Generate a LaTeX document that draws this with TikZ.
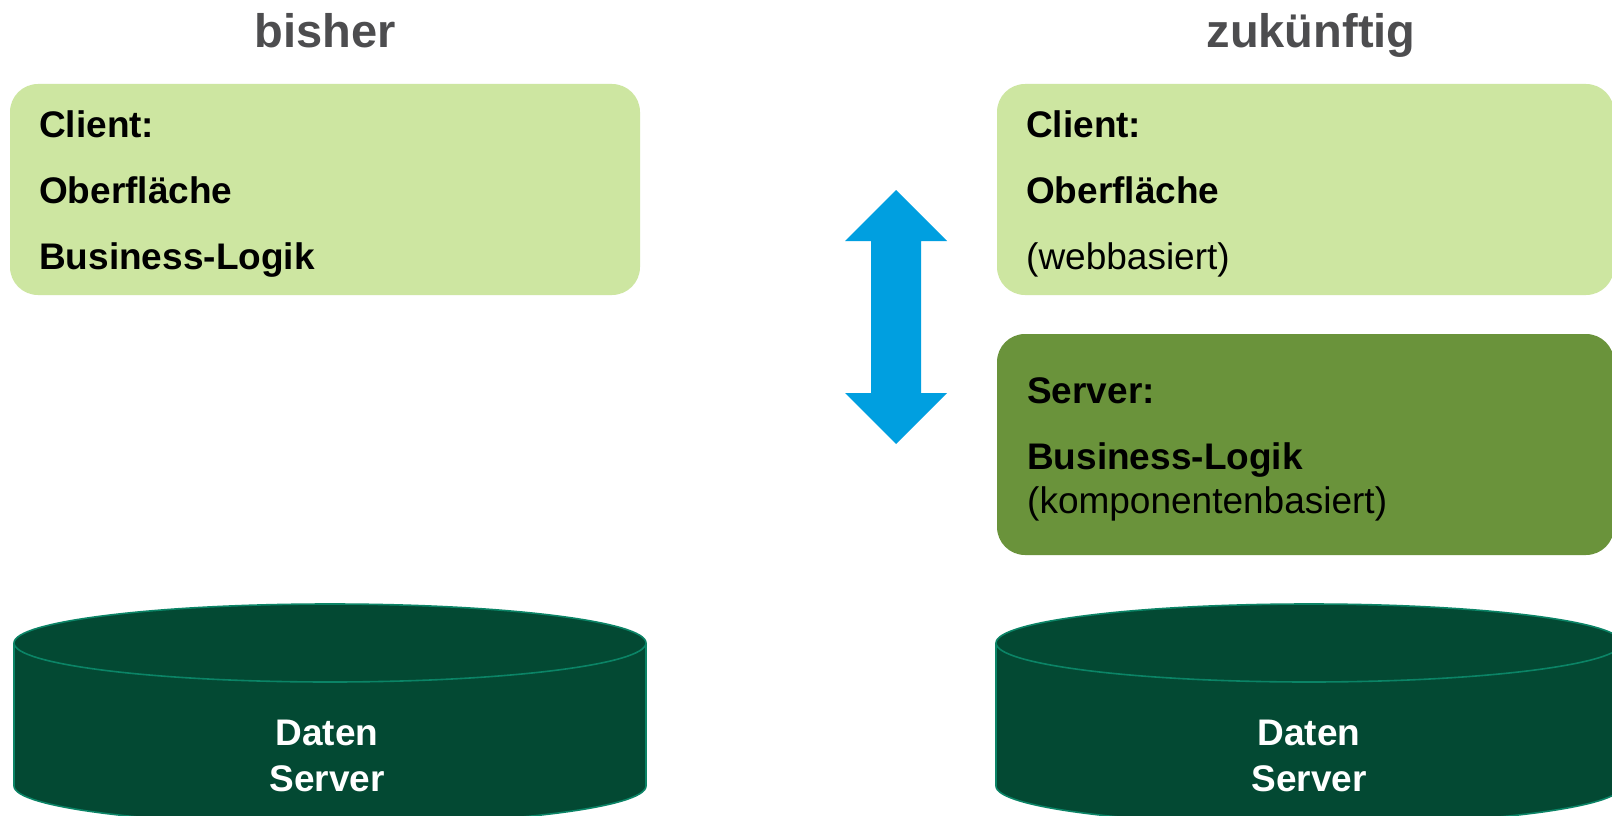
\documentclass[tikz,border=0pt]{standalone}
\usepackage{fontspec}
\setmainfont{Liberation Sans}
\definecolor{lightgreen}{HTML}{CDE6A1}
\definecolor{midgreen}{HTML}{6A933B}
\definecolor{cylfill}{HTML}{034933}
\definecolor{cylline}{HTML}{0B8466}
\definecolor{arrowblue}{HTML}{009FE0}
\definecolor{titlegray}{HTML}{4D4D4F}
\tikzset{
  boxstyle/.style={fill=#1, draw=none, rounded corners=28pt, inner sep=0pt},
  boxtext/.style={anchor=base west, inner sep=0pt, font=\fontsize{37}{44}\selectfont\bfseries, text=black},
  boxplain/.style={anchor=base west, inner sep=0pt, font=\fontsize{37}{44}\selectfont, text=black},
  titletext/.style={anchor=base, inner sep=0pt, font=\fontsize{47}{56}\selectfont\bfseries, text=titlegray},
  cyltext/.style={anchor=base, inner sep=0pt, font=\fontsize{37}{44}\selectfont\bfseries, text=white},
  cylborder/.style={draw=cylline, line width=1.6pt},
}
\begin{document}
\begin{tikzpicture}[x=1pt,y=-1pt]
\useasboundingbox (0,0) rectangle (1612,816);
\fill[white] (0,0) rectangle (1612,816);

% titles
\node[titletext] (t1) at (325,48) {bisher};
\node[titletext] (t2) at (1311,48) {zukünftig};

% boxes
\node[boxstyle=lightgreen, minimum width=630pt, minimum height=211pt] (clientL) at (325,189.5) {};
\node[boxstyle=lightgreen, minimum width=617pt, minimum height=211pt] (clientR) at (1305.5,189.5) {};
\node[boxstyle=midgreen, minimum width=617pt, minimum height=221pt] (server) at (1305.5,444.5) {};

% left client text
\node[boxtext] (l1) at (39,137) {Client:};
\node[boxtext] (l2) at (39,203) {Oberfläche};
\node[boxtext] (l3) at (39,269) {Business-Logik};

% right client text
\node[boxtext] (r1) at (1026,137) {Client:};
\node[boxtext] (r2) at (1026,203) {Oberfläche};
\node[boxplain] (r3) at (1026,269) {(webbasiert)};

% server text
\node[boxtext] (s1) at (1027,403) {Server:};
\node[boxtext] (s2) at (1027,469) {Business-Logik};
\node[boxplain] (s3) at (1027,513) {(komponentenbasiert)};

% double arrow
\fill[arrowblue] (896,190) -- (947,241) -- (921,241) -- (921,393) -- (947,393)
  -- (896,444) -- (845,393) -- (871,393) -- (871,241) -- (845,241) -- cycle;

% left cylinder
\fill[cylfill] (14,643) -- (14,786) arc[start angle=180, end angle=360, x radius=316pt, y radius=39pt] -- (646,643) -- cycle;
\filldraw[cylfill, cylborder] (330,643) ellipse[x radius=316pt, y radius=39pt];
\draw[cylborder] (14,643) -- (14,786) arc[start angle=180, end angle=360, x radius=316pt, y radius=39pt] -- (646,643);
\node[cyltext] (d1) at (327,745) {Daten};
\node[cyltext] (d2) at (327,791) {Server};

% right cylinder
\fill[cylfill] (996,643) -- (996,786) arc[start angle=180, end angle=360, x radius=313pt, y radius=39pt] -- (1622,643) -- cycle;
\filldraw[cylfill, cylborder] (1309,643) ellipse[x radius=313pt, y radius=39pt];
\draw[cylborder] (996,643) -- (996,786) arc[start angle=180, end angle=360, x radius=313pt, y radius=39pt] -- (1622,643);
\node[cyltext] (e1) at (1309,745) {Daten};
\node[cyltext] (e2) at (1309,791) {Server};
\end{tikzpicture}
\end{document}
